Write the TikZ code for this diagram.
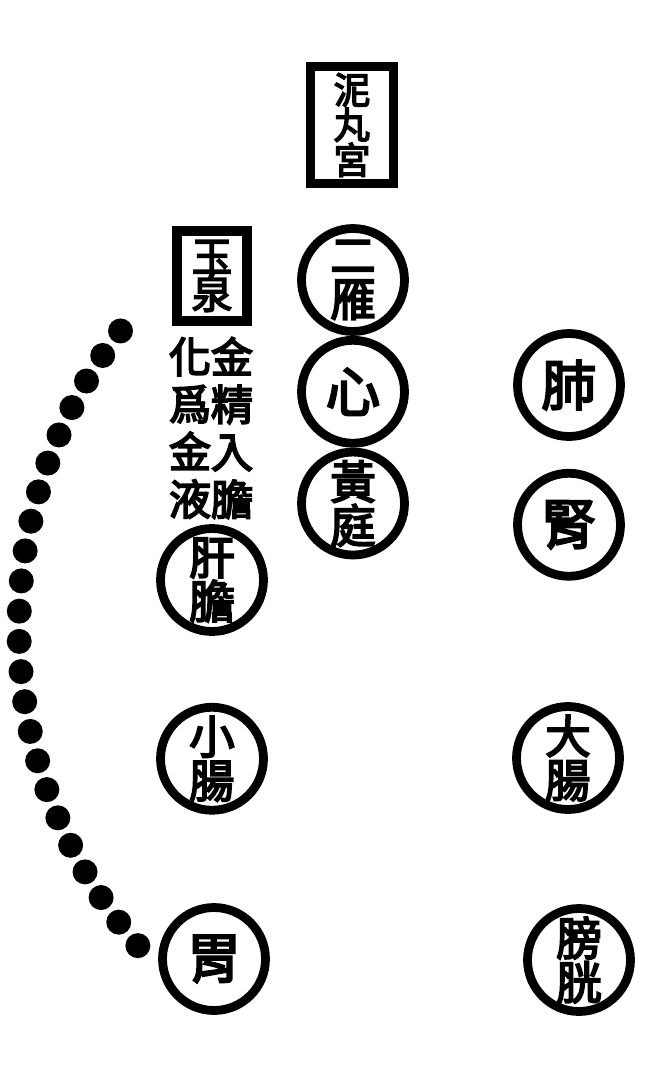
\documentclass[tikz,border=0pt]{standalone}
\usepackage{fontspec}
\newfontfamily\cjk[AutoFakeBold=4]{Noto Sans CJK TC}
\usetikzlibrary{positioning}

\begin{document}
\begin{tikzpicture}[
    x=0.02cm, y=-0.02cm,
    organ/.style={circle, draw=black, line width=5pt, minimum size=2.06cm, inner sep=0pt},
    pair/.style={align=center, inner sep=0pt, font=\cjk\bfseries\fontsize{26}{25}\selectfont},
    single/.style={inner sep=0pt, font=\cjk\bfseries\fontsize{31}{31}\selectfont},
    plate/.style={rectangle, draw=black, line width=5.5pt, inner sep=0pt},
    column/.style={align=center, inner sep=0pt, font=\cjk\bfseries\fontsize{24}{27}\selectfont}
]
\useasboundingbox (0,0) rectangle (656,1075);

% Top plates
\node[plate, minimum width=1.66cm, minimum height=2.34cm] (niwan) at (352,125) {};
\node[align=center, inner sep=0pt, font=\cjk\bfseries\fontsize{21}{20}\selectfont] at (niwan) {泥\\丸\\宮};
\node[plate, minimum width=1.4cm, minimum height=1.8cm] (yuquan) at (212,276) {};
\node[align=center, inner sep=0pt, font=\cjk\bfseries\fontsize{23}{21}\selectfont] at (yuquan) {玉\\泉};

% Text columns
\node[column] (colright) at (232,428) {金\\精\\入\\膽};
\node[column] (colleft) at (190,428) {化\\爲\\金\\液};

% Middle column
\node[organ] (yan) at (353,280) {};
\node[organ, below=0cm of yan] (heart) {};
\node[organ, below=0cm of heart] (huangting) {};
\node[pair] at (yan) {二\\雁};
\node[single] at (heart) {心};
\node[pair] at (huangting) {黃\\庭};

% Left column
\node[organ] (liver) at (212,580) {};
\node[organ, below=1.34cm of liver] (smallint) {};
\node[organ] (stomach) at (214,959) {};
\node[pair] at (liver) {肝\\膽};
\node[pair] at (smallint) {小\\腸};
\node[single] at (stomach) {胃};

% Right column
\node[organ] (lung) at (569,385) {};
\node[organ, below=0.56cm of lung] (kidney) {};
\node[organ] (largeint) at (568,758) {};
\node[organ] (bladder) at (579,960) {};
\node[single] at (lung) {肺};
\node[single] at (kidney) {腎};
\node[pair] at (largeint) {大\\腸};
\node[pair] at (bladder) {膀\\胱};

% Dotted arc
\foreach \a in {0,...,22}
    \fill ({503.6+484.6*cos(139+\a*3.58)}, {627.7+484.6*sin(139+\a*3.58)}) circle (0.25cm);

\end{tikzpicture}
\end{document}
